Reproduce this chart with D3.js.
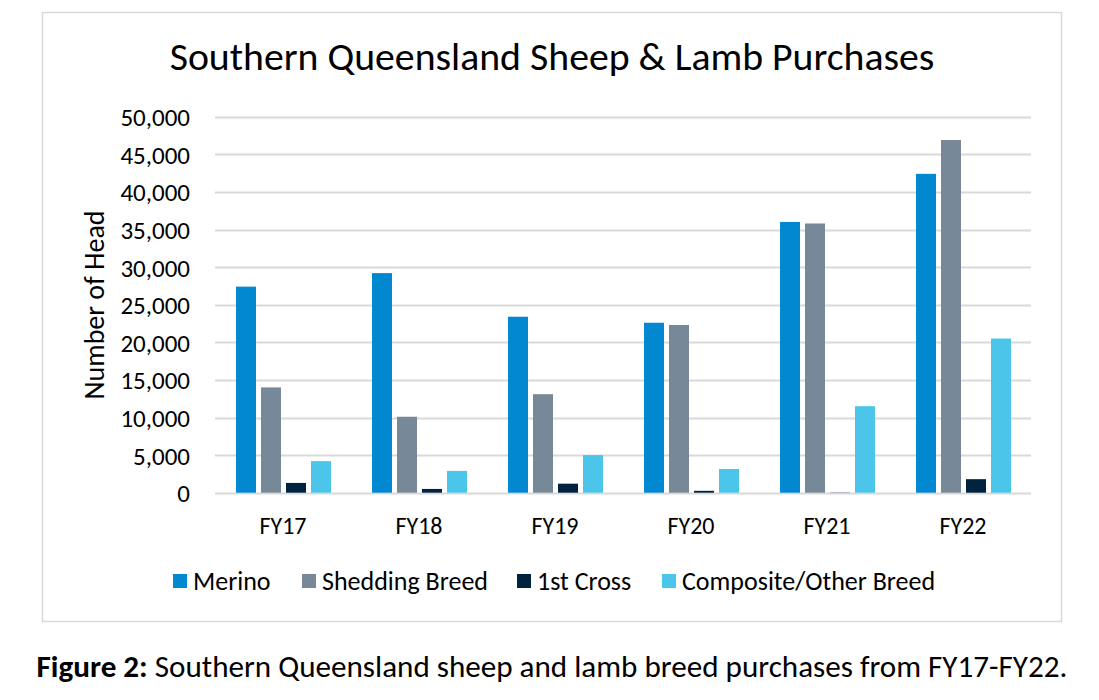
<!DOCTYPE html>
<html>
<head>
<meta charset="utf-8">
<script src="https://cdn.jsdelivr.net/npm/d3@7"></script>
<style>
  html, body { margin: 0; padding: 0; background: #fff; }
  svg { display: block; }
  text { font-family: Carlito, Lato, "Open Sans", sans-serif; fill: #000; }
</style>
</head>
<body>
<svg id="chart" width="1099" height="700"></svg>
<script>
const categories = ["FY17", "FY18", "FY19", "FY20", "FY21", "FY22"];
const seriesNames = ["Merino", "Shedding Breed", "1st Cross", "Composite/Other Breed"];
const merino = [27400, 29200, 23400, 22600, 36000, 42400];
const shedding = [14000, 10100, 13100, 22300, 35800, 46900];
const firstCross = [1300, 500, 1200, 250, 30, 1800];
const composite = [4200, 2900, 5000, 3150, 11500, 20500];
const yTicks = [0, 5000, 10000, 15000, 20000, 25000, 30000, 35000, 40000, 45000, 50000];
const colors = ["#0288D1", "#778899", "#002340", "#4BC6EA"];

const seriesValues = [merino, shedding, firstCross, composite];

const svg = d3.select("#chart");

function fit(t, target) {
  const w = t.node().getComputedTextLength();
  const fs = +t.attr("font-size");
  t.attr("font-size", fs * target / w);
}

// chart border
svg.append("rect")
  .attr("x", 42.5).attr("y", 12.5).attr("width", 1019).attr("height", 609)
  .attr("fill", "#fff").attr("stroke", "#D9D9D9").attr("stroke-width", 1.5);

const plotLeft = 215, plotRight = 1031, plotTop = 116.7, plotBottom = 492.7;

const y = d3.scaleLinear().domain([0, 50000]).range([plotBottom, plotTop]);
const x0 = d3.scaleBand().domain(categories).range([plotLeft, plotRight]).padding(0);
const x1 = d3.scaleBand().domain(seriesNames).range([21, 116]).paddingInner(0.2).paddingOuter(0);

// gridlines
svg.append("g").selectAll("line").data(yTicks).join("line")
  .attr("x1", plotLeft).attr("x2", plotRight)
  .attr("y1", d => Math.round(y(d)) + 0.5).attr("y2", d => Math.round(y(d)) + 0.5)
  .attr("stroke", "#D9D9D9").attr("stroke-width", 2);

// y axis labels
const fmt = d3.format(",");
const yAxis = d3.axisLeft(y).tickValues(yTicks).tickFormat(fmt).tickSize(0).tickPadding(0);
const yg = svg.append("g").attr("transform", "translate(190,0)").call(yAxis);
yg.select(".domain").remove();
yg.selectAll("text").attr("font-size", 25).attr("fill", "#000")
  .style("font-family", "Carlito, Lato, sans-serif").attr("dy", "0.36em");

// bars
const groups = svg.append("g").selectAll("g").data(categories).join("g")
  .attr("transform", d => `translate(${x0(d)},0)`);
groups.selectAll("rect")
  .data((c, ci) => seriesNames.map((s, si) => ({ s, si, v: seriesValues[si][ci] })))
  .join("rect")
  .attr("x", d => x1(d.s))
  .attr("width", x1.bandwidth())
  .attr("y", d => y(d.v))
  .attr("height", d => plotBottom - y(d.v))
  .attr("fill", d => colors[d.si]);

// x axis labels
const xAxis = d3.axisBottom(x0).tickSize(0).tickPadding(0);
const xg = svg.append("g").attr("transform", `translate(0,${plotBottom})`).call(xAxis);
xg.select(".domain").remove();
xg.selectAll("text").attr("font-size", 24).attr("fill", "#000")
  .style("font-family", "Carlito, Lato, sans-serif")
  .attr("y", 41).attr("dy", 0);

// y-axis title
svg.append("text")
  .attr("transform", "translate(104,305) rotate(-90)")
  .attr("text-anchor", "middle")
  .attr("font-size", 28)
  .text("Number of Head");

// title
const title = svg.append("text")
  .attr("x", 552).attr("y", 70)
  .attr("text-anchor", "middle")
  .attr("font-size", 34)
  .text("Southern Queensland Sheep & Lamb Purchases");
fit(title, 765);

// legend
const legendX = [173, 302, 517, 662];
const lg = svg.append("g").selectAll("g").data(seriesNames).join("g")
  .attr("transform", (d, i) => `translate(${legendX[i]},581)`);
lg.append("rect").attr("x", 0).attr("y", -7).attr("width", 14).attr("height", 14)
  .attr("fill", (d, i) => colors[i]);
lg.append("text").attr("x", 20).attr("y", 0).attr("dy", "0.35em")
  .attr("font-size", 26).text(d => d);

// caption
const cap = svg.append("text")
  .attr("x", 552).attr("y", 677).attr("text-anchor", "middle")
  .attr("font-size", 24);
cap.append("tspan").attr("font-weight", "bold").text("Figure 2:");
cap.append("tspan").text(" Southern Queensland sheep and lamb breed purchases from FY17-FY22.");
fit(cap, 1031);
</script>
</body>
</html>
